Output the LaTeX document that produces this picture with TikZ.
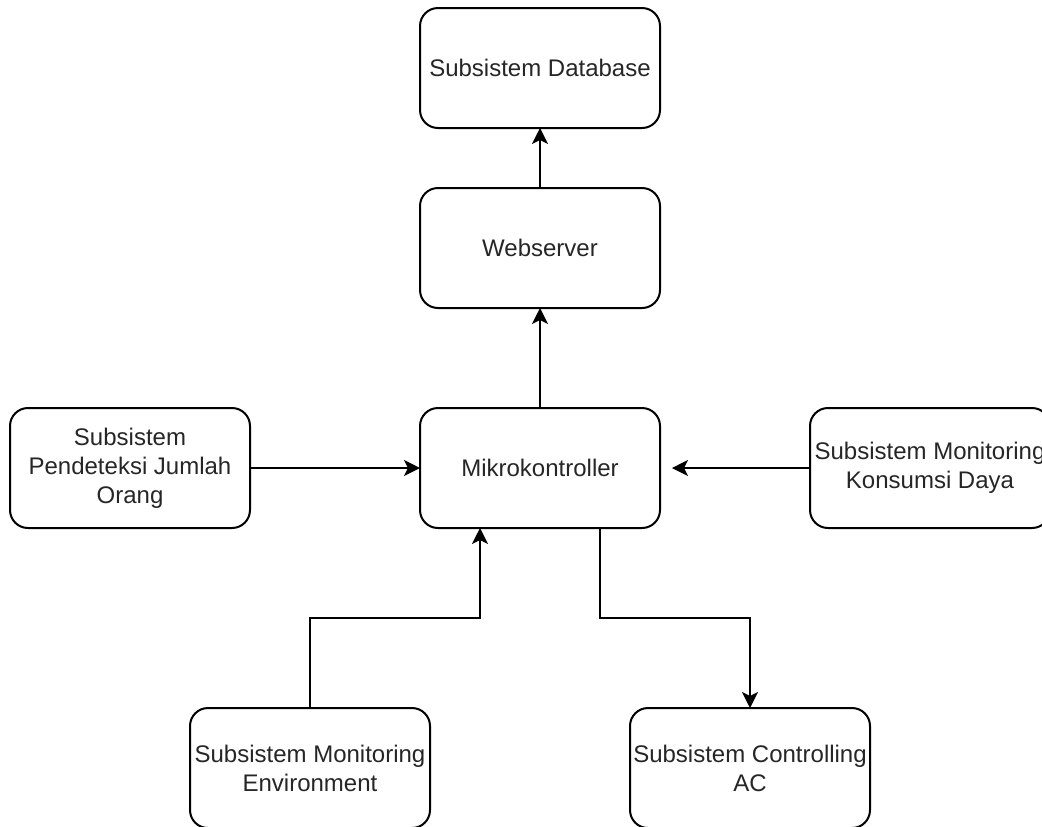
\documentclass[tikz,border=0pt]{standalone}
\usepackage{fontspec}
\setmainfont{Liberation Sans}
\usepackage{tikz}
\usetikzlibrary{arrows.meta,positioning}
\tikzstyle{block} = [rectangle, rounded corners=9pt, draw=black, line width=1pt, fill=white, text=black!85, align=center, font=\fontsize{12}{14.5}\selectfont, minimum width=120pt, minimum height=60pt, inner sep=1pt, outer sep=0pt]
\tikzstyle{tedge} = [draw, line width=1pt, >={Stealth[length=8pt,width=8pt,inset=2pt]}, ->]

\begin{document}
\begin{tikzpicture}[x=0.5pt,y=-0.5pt]
\useasboundingbox (0,0) rectangle (1042,826);

% center =================================
\node[block] (mikro) at (540,468) {Mikrokontroller};

% upper chain
\node[block, above=50pt of mikro] (web) {Webserver};
\node[block, above=30pt of web] (db) {Subsistem Database};

% sides
\node[block, left=85pt of mikro] (orang) {Subsistem\\Pendeteksi Jumlah\\Orang};
\node[block, right=75pt of mikro] (daya) {Subsistem Monitoring\\Konsumsi Daya};
\coordinate[right=6pt of mikro] (mikrotip);

% bottom
\node[block, below=90pt of mikro, xshift=-115pt] (env) {Subsistem Monitoring\\Environment};
\node[block, below=90pt of mikro, xshift=105pt] (ac) {Subsistem Controlling\\AC};

%edges
\path[tedge] (web) -- (db);
\path[tedge] (mikro) -- (web);
\path[tedge] (orang) -- (mikro);
\path[tedge] (daya) -- (mikrotip);
\path[tedge] (env.north) -- ++(0,-90) -| ([xshift=-30pt]mikro.south);
\path[tedge] ([xshift=30pt]mikro.south) -- ++(0,90) -| (ac.north);

\end{tikzpicture}
\end{document}
